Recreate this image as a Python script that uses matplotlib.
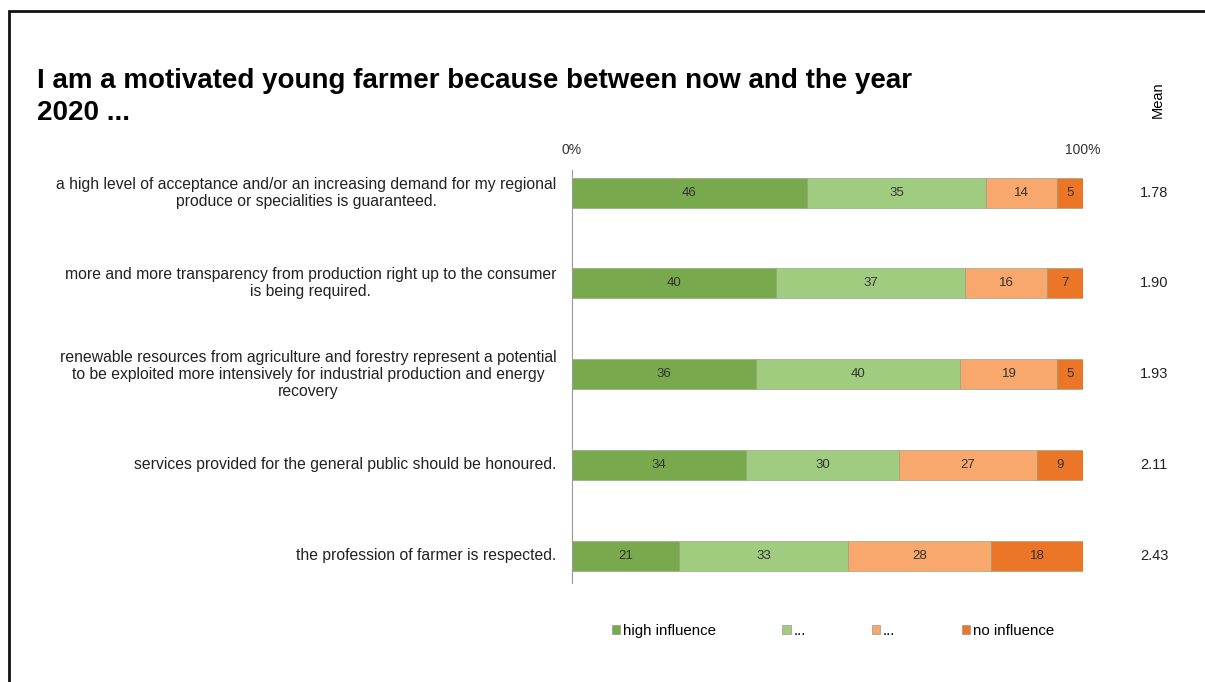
import numpy as np
import matplotlib.pyplot as plt
from matplotlib.patches import Rectangle, Patch

plt.rcParams['font.family'] = ['Liberation Sans', 'DejaVu Sans']

# data
statements = [
    "a high level of acceptance and/or an increasing demand for my regional\nproduce or specialities is guaranteed.",
    "more and more transparency from production right up to the consumer\nis being required.",
    "renewable resources from agriculture and forestry represent a potential\nto be exploited more intensively for industrial production and energy\nrecovery",
    "services provided for the general public should be honoured.",
    "the profession of farmer is respected.",
]
high_influence = [46, 40, 36, 34, 21]
level_2 = [35, 37, 40, 30, 33]
level_3 = [14, 16, 19, 27, 28]
no_influence = [5, 7, 5, 9, 18]
means = ["1.78", "1.90", "1.93", "2.11", "2.43"]
series_names = ["high influence", "...", "...", "no influence"]
colors = ["#78a94c", "#a0cc80", "#f8a86c", "#ec7628"]

W, H = 1205, 682
fig = plt.figure(figsize=(W / 100, H / 100), dpi=100)

# outer frame (runs off the right and bottom edges)
fig.patches.append(Rectangle((9 / W, -0.05), 1.2, (H - 11) / H + 0.05,
                             transform=fig.transFigure, fill=False,
                             edgecolor="#111111", linewidth=2))

# title
fig.text(37 / W, 1 - 81 / H, "I am a motivated young farmer because between now and the year",
         fontsize=20, fontweight="bold", ha="left", va="center")
fig.text(37 / W, 1 - 113 / H, "2020 ...",
         fontsize=20, fontweight="bold", ha="left", va="center")

# bar axes
x0, x1 = 572, 1083
y_top, y_bot = 170, 583
ax = fig.add_axes([x0 / W, 1 - y_bot / H, (x1 - x0) / W, (y_bot - y_top) / H])

y = np.arange(len(statements))
left = np.zeros(len(statements))
for vals, name, col in zip([high_influence, level_2, level_3, no_influence], series_names, colors):
    vals = np.array(vals)
    ax.barh(y, vals, left=left, height=0.33, color=col, edgecolor="#8a9a7a", linewidth=0.4)
    for yi, l, v in zip(y, left, vals):
        ax.text(l + v / 2, yi, str(v), ha="center", va="center", fontsize=9.5, color="#333333")
    left += vals

ax.set_xlim(0, 100)
ax.set_ylim(4.3, -0.25)
ax.set_yticks([])
ax.set_xticks([])
for s in ["top", "right", "bottom"]:
    ax.spines[s].set_visible(False)
ax.spines["left"].set_color("#999999")
ax.spines["left"].set_linewidth(0.8)

# percent labels at the top
ax.text(0, -0.47, "0%", ha="center", va="center", fontsize=10, color="#333333")
ax.text(100, -0.47, "100%", ha="center", va="center", fontsize=10, color="#333333")

# statement labels
for yi, s in zip(y, statements):
    ax.text(-3.0, yi, s, ha="right", va="center", multialignment="center",
            fontsize=11.3, color="#222222", linespacing=1.17)

# mean column
fig.text(1158 / W, 1 - 100 / H, "Mean", rotation=90, ha="center", va="center", fontsize=10.5)
mean_x = (1140 - x0) / (x1 - x0)
for yi, m in zip(y, means):
    ax.text(mean_x, yi, m, transform=ax.get_yaxis_transform(), ha="left", va="center",
            fontsize=10.5, color="#222222")

# legend
handles = [Patch(facecolor=c, edgecolor="#888888", linewidth=0.4) for c in colors]
fig.legend(handles, series_names, loc="center", bbox_to_anchor=(833 / W, 1 - 631 / H),
           ncol=4, frameon=False, fontsize=10.8, handlelength=0.55, handleheight=0.55,
           handletextpad=0.2, columnspacing=4.4)

fig.savefig("out.png", dpi=100)
